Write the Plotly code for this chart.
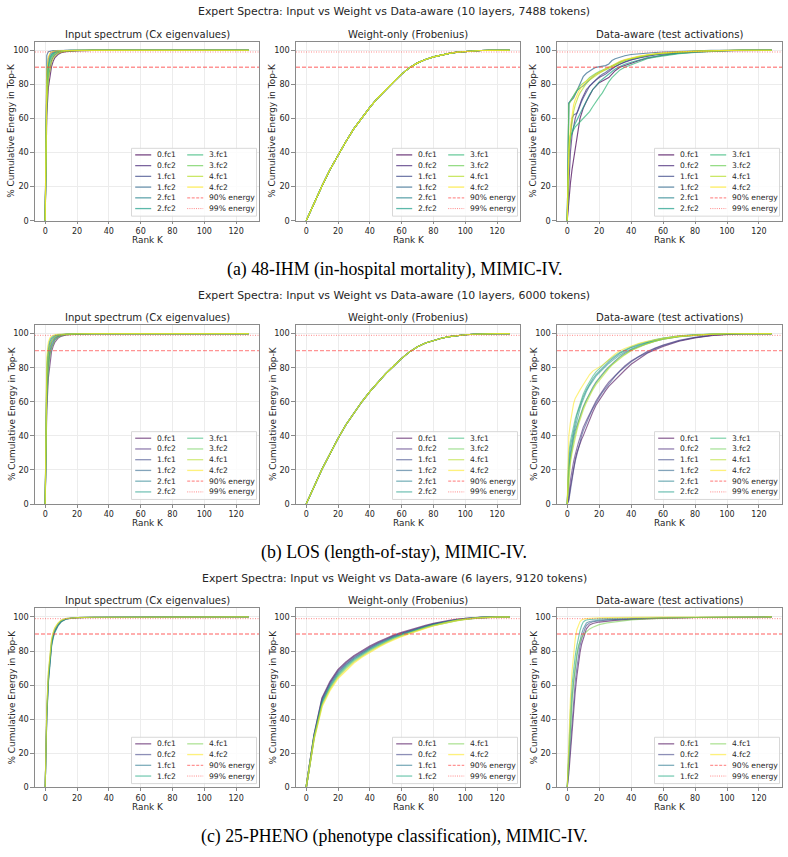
import math
import plotly.graph_objects as go

# ---------------- data ----------------
LAYERS10 = ["0.fc1", "0.fc2", "1.fc1", "1.fc2", "2.fc1", "2.fc2", "3.fc1", "3.fc2", "4.fc1", "4.fc2"]
LAYERS6 = ["0.fc1", "0.fc2", "1.fc1", "1.fc2", "4.fc1", "4.fc2"]
REF_LABELS = ["90% energy", "99% energy"]
REF_LEVELS = [90, 99]
K_MAX = 128

SUPTITLES = [
    "Expert Spectra: Input vs Weight vs Data-aware (10 layers, 7488 tokens)",
    "Expert Spectra: Input vs Weight vs Data-aware (10 layers, 6000 tokens)",
    "Expert Spectra: Input vs Weight vs Data-aware (6 layers, 9120 tokens)",
]
PANEL_TITLES = ["Input spectrum (Cx eigenvalues)", "Weight-only (Frobenius)", "Data-aware (test activations)"]
CAPTIONS = [
    "(a) 48-IHM (in-hospital mortality), MIMIC-IV.",
    "(b) LOS (length-of-stay), MIMIC-IV.",
    "(c) 25-PHENO (phenotype classification), MIMIC-IV.",
]
X_TICKS = [0, 20, 40, 60, 80, 100, 120]
Y_TICKS = [0, 20, 40, 60, 80, 100]

K_IN = [0, 1, 2, 3, 4, 5, 6, 8, 10, 13, 16, 20, 30, 50, 80, 128]
K_W = [0, 5, 10, 15, 20, 25, 30, 35, 40, 45, 50, 55, 60, 65, 70, 75, 80, 85, 90, 95, 100, 105, 110, 115, 120, 128]
K_DA = [0, 1, 2, 3, 4, 5, 6, 7, 8, 9, 10, 12, 14, 16, 18, 20, 22, 24, 26, 28, 30, 33, 36, 40, 45, 50, 55, 60, 70, 80, 90, 100, 110, 128]
K_DA3 = [0, 1, 2, 3, 4, 5, 6, 7, 8, 9, 10, 11, 12, 14, 16, 20, 25, 30, 40, 50, 60, 80, 100, 128]

# Row (a) 48-IHM
IHM_INPUT = [
    [0, 62, 78, 86, 90.5, 93.5, 95.5, 97.5, 98.6, 99.2, 99.5, 99.7, 99.9, 100, 100, 100],
    [0, 70, 84, 90.5, 94, 96, 97.3, 98.5, 99.1, 99.5, 99.7, 99.8, 99.9, 100, 100, 100],
    [0, 86, 95, 97.6, 98.6, 99.1, 99.4, 99.6, 99.8, 99.9, 99.9, 100, 100, 100, 100, 100],
    [0, 97, 99.2, 99.5, 99.7, 99.8, 99.85, 99.9, 99.95, 100, 100, 100, 100, 100, 100, 100],
    [0, 80, 92, 96, 97.7, 98.5, 99, 99.4, 99.6, 99.8, 99.9, 99.9, 100, 100, 100, 100],
    [0, 76, 89, 94, 96.3, 97.6, 98.4, 99.1, 99.4, 99.7, 99.8, 99.9, 100, 100, 100, 100],
    [0, 79, 91, 95.2, 97.1, 98.2, 98.8, 99.3, 99.6, 99.8, 99.9, 99.9, 100, 100, 100, 100],
    [0, 73, 87, 92.5, 95.4, 97, 98, 98.9, 99.3, 99.6, 99.8, 99.9, 100, 100, 100, 100],
    [0, 68, 83, 89.5, 93, 95.2, 96.6, 98.1, 98.9, 99.4, 99.6, 99.8, 99.9, 100, 100, 100],
    [0, 88, 96, 98.2, 99, 99.4, 99.6, 99.75, 99.85, 99.9, 99.95, 100, 100, 100, 100, 100],
]
IHM_WEIGHT = [0, 10.5, 20.5, 30, 38.5, 46.5, 54, 60.5, 66.5, 72, 77, 81.5, 86, 89.8, 92.6, 94.6,
              96.1, 97.3, 98.2, 98.9, 99.35, 99.65, 99.85, 99.95, 100, 100]
IHM_DATA = [
    [0, 12, 22, 30, 36, 42, 50, 56, 60, 63, 66, 70, 74, 77, 79, 81, 82, 83, 84, 86, 88, 90, 91, 92.5, 94, 95.3, 96.3, 97.1, 98.3, 99, 99.5, 99.8, 99.95, 100],
    [0, 25, 40, 50, 56, 60, 63, 66, 69, 71, 73, 77, 79, 81, 82.5, 84, 85, 86, 87.5, 89, 90.5, 92, 93, 94.3, 95.5, 96.5, 97.3, 97.9, 98.8, 99.3, 99.7, 99.9, 100, 100],
    [0, 35, 50, 60, 62, 62.5, 63, 65, 68, 70, 72, 76, 79, 81, 83, 84.5, 86, 87, 88.5, 89.5, 90.5, 92, 93.3, 94.5, 95.8, 96.8, 97.5, 98, 98.8, 99.4, 99.7, 99.9, 100, 100],
    [0, 69, 70, 71, 72, 74, 76, 78, 81, 83, 84.5, 86.5, 88, 89, 90, 90.2, 90.5, 91, 92, 94, 95, 96, 96.8, 97.5, 98, 98.4, 98.7, 99, 99.4, 99.7, 99.9, 100, 100, 100],
    [0, 69, 70.5, 72, 73.5, 75, 76, 77, 78, 78.5, 79, 81, 83, 84.5, 86, 87, 88, 89, 90, 91, 92, 93.2, 94.2, 95.3, 96.3, 97.1, 97.7, 98.2, 98.9, 99.4, 99.7, 99.9, 100, 100],
    [0, 40, 48, 52, 55, 57, 59, 61, 63, 65, 67, 71, 74, 77, 79.5, 81.5, 83, 84.5, 86, 87.5, 89, 90.5, 91.8, 93, 94.5, 95.6, 96.5, 97.2, 98.3, 99, 99.5, 99.8, 100, 100],
    [0, 45, 50, 52, 53.5, 55, 56, 57, 58, 59.5, 60.5, 62, 64, 67, 70, 72.5, 75, 78.5, 81.5, 84, 86, 88.5, 90, 91.5, 93.5, 95, 96, 96.8, 98, 98.8, 99.4, 99.8, 100, 100],
    [0, 68, 70, 72, 73.5, 75, 76.5, 78, 79, 80, 80.5, 82, 84, 85.5, 86.5, 87.5, 88.5, 89.2, 90, 90.8, 91.5, 92.8, 94, 95, 96.2, 97, 97.7, 98.2, 98.9, 99.4, 99.7, 99.9, 100, 100],
    [0, 38, 50, 58, 64, 68, 71, 73, 75, 76.5, 78, 80.5, 82.5, 84, 85.5, 86.5, 87.5, 88.5, 89.5, 90.5, 91.5, 92.8, 94, 95.2, 96.3, 97.2, 97.8, 98.3, 99, 99.5, 99.8, 99.9, 100, 100],
    [0, 42, 55, 63, 68, 71, 73.5, 75.5, 77, 78.5, 80, 82, 83.5, 85, 86, 87, 88, 89, 90, 91, 92, 93.5, 94.5, 95.6, 96.6, 97.4, 98, 98.5, 99.1, 99.5, 99.8, 99.9, 100, 100],
]

# Row (b) LOS
LOS_INPUT = [
    [0, 55, 74, 84, 89.5, 92.5, 94.8, 97.2, 98.4, 99.2, 99.5, 99.7, 99.9, 100, 100, 100],
    [0, 62, 80, 88, 92, 94.5, 96.2, 98, 98.9, 99.4, 99.6, 99.8, 99.9, 100, 100, 100],
    [0, 70, 86, 92, 94.8, 96.5, 97.6, 98.7, 99.2, 99.6, 99.7, 99.8, 99.9, 100, 100, 100],
    [0, 78, 91, 95.2, 97, 98, 98.6, 99.2, 99.5, 99.7, 99.8, 99.9, 99.9, 100, 100, 100],
    [0, 66, 83, 90, 93.5, 95.5, 97, 98.4, 99, 99.5, 99.7, 99.8, 99.9, 100, 100, 100],
    [0, 74, 88, 93.5, 96, 97.4, 98.2, 99, 99.4, 99.6, 99.8, 99.9, 99.9, 100, 100, 100],
    [0, 82, 93, 96.5, 97.9, 98.6, 99, 99.4, 99.6, 99.8, 99.9, 99.9, 100, 100, 100, 100],
    [0, 60, 78, 87, 91.5, 94.2, 96, 97.8, 98.8, 99.3, 99.6, 99.8, 99.9, 100, 100, 100],
    [0, 72, 87, 93, 95.6, 97, 98, 98.9, 99.3, 99.6, 99.8, 99.9, 99.9, 100, 100, 100],
    [0, 86, 95, 97.5, 98.5, 99, 99.3, 99.6, 99.7, 99.8, 99.9, 99.9, 100, 100, 100, 100],
]
LOS_WEIGHT = [0, 10.5, 20.5, 29.5, 38.5, 46.5, 53.5, 60, 66, 71.5, 76.5, 81, 85.5, 89.3, 92.3, 94.5,
              96.1, 97.3, 98.2, 98.9, 99.35, 99.65, 99.85, 99.95, 100, 100]
LOS_DATA = [
    [0, 3, 10, 16, 22, 26, 30, 33, 35, 38, 40, 45, 50, 54, 58, 61, 64, 66.5, 69, 71, 73, 76, 78.5, 82, 85.5, 88.5, 90.5, 92.5, 95.5, 97.5, 98.8, 99.6, 99.9, 100],
    [0, 5, 14, 20, 25, 29, 33, 36, 39, 42, 45, 49, 53, 57, 60.5, 63.5, 66.5, 69, 71.5, 73.5, 75.5, 78.5, 81, 84, 87, 89.5, 91.5, 93.3, 96, 97.8, 99, 99.7, 100, 100],
    [0, 2, 8, 15, 20, 25, 29, 33, 37, 40, 43, 48, 52, 56, 59.5, 62.5, 65.5, 68, 70.5, 73, 75, 78, 80.5, 83.5, 86.5, 89, 91.2, 93, 95.8, 97.7, 98.9, 99.6, 99.9, 100],
    [0, 20, 28, 34, 39, 43, 46, 49, 52, 55, 57, 61, 65, 68.5, 71.5, 74, 76.5, 78.5, 80.5, 82.5, 84, 86.5, 88.5, 90.5, 92.5, 94.2, 95.6, 96.7, 98.2, 99.1, 99.6, 99.9, 100, 100],
    [0, 26, 34, 39, 44, 48, 52, 55, 58, 61, 63, 67, 70.5, 73.5, 76, 78, 80, 82, 83.5, 85, 86.5, 88.5, 90, 91.8, 93.5, 95, 96.2, 97.2, 98.5, 99.3, 99.7, 99.9, 100, 100],
    [0, 22, 30, 36, 41, 45, 49, 53, 56, 59, 61.5, 66, 69.5, 72.5, 75, 77, 79, 81, 82.5, 84, 85.5, 87.5, 89.2, 91, 93, 94.6, 95.9, 97, 98.4, 99.2, 99.7, 99.9, 100, 100],
    [0, 30, 37, 42, 46, 50, 53, 56, 59, 62, 64.5, 68.5, 72, 75, 77.5, 79.5, 81.5, 83, 84.5, 86, 87.2, 89, 90.5, 92.2, 94, 95.4, 96.5, 97.4, 98.7, 99.4, 99.8, 99.95, 100, 100],
    [0, 18, 26, 32, 37, 41, 45, 48, 51, 54, 56.5, 61, 64.5, 68, 71, 73.5, 76, 78, 80, 82, 83.5, 86, 88, 90.2, 92.4, 94.2, 95.6, 96.8, 98.3, 99.1, 99.6, 99.9, 100, 100],
    [0, 15, 24, 30, 35, 39, 43, 46.5, 49.5, 52.5, 55, 59.5, 63.5, 67, 70, 72.5, 75, 77.5, 79.5, 81.5, 83, 85.5, 87.5, 90, 92.2, 94, 95.5, 96.7, 98.2, 99.1, 99.6, 99.9, 100, 100],
    [0, 40, 48, 55, 59, 62, 64, 65.5, 67, 68.5, 70, 73, 76, 78, 79, 80, 81.5, 83, 85, 86.5, 88, 90, 91.3, 92.8, 94.3, 95.5, 96.5, 97.3, 98.5, 99.2, 99.7, 99.9, 100, 100],
]

# Row (c) 25-PHENO
PHENO_INPUT = [
    [0, 42, 63, 76, 84, 88.5, 91.5, 95, 97.3, 98.8, 99.3, 99.6, 99.8, 99.9, 100, 100],
    [0, 44, 65, 78, 85.5, 89.7, 92.5, 95.7, 97.7, 99, 99.4, 99.6, 99.8, 99.9, 100, 100],
    [0, 40, 61, 74, 82.5, 87.5, 90.8, 94.6, 97, 98.7, 99.3, 99.6, 99.8, 99.9, 100, 100],
    [0, 41, 62, 75, 83.5, 88.2, 91.3, 95, 97.3, 98.8, 99.3, 99.6, 99.8, 99.9, 100, 100],
    [0, 46, 67, 79.5, 86.5, 90.5, 93.2, 96.2, 98, 99.1, 99.4, 99.6, 99.8, 99.9, 100, 100],
    [0, 47, 68, 80, 87, 91, 93.6, 96.4, 98.1, 99.1, 99.4, 99.6, 99.8, 99.9, 100, 100],
]
PHENO_WEIGHT = [
    [0, 31, 52.5, 62, 69, 73.5, 77.2, 80.2, 82.8, 85.2, 87.4, 89.2, 90.8, 92.3, 93.7, 95, 96.1, 97.1, 97.9, 98.6, 99.1, 99.5, 99.75, 99.9, 100, 100],
    [0, 30.5, 51.5, 61, 68, 72.5, 76.3, 79.4, 82, 84.5, 86.8, 88.7, 90.3, 91.8, 93.3, 94.6, 95.8, 96.8, 97.7, 98.4, 99, 99.4, 99.7, 99.9, 100, 100],
    [0, 30, 50.5, 60, 67, 71.7, 75.6, 78.8, 81.5, 84, 86.3, 88.3, 89.9, 91.5, 93, 94.3, 95.5, 96.6, 97.5, 98.2, 98.9, 99.35, 99.65, 99.85, 100, 100],
    [0, 29.5, 49.5, 59, 66, 70.8, 74.8, 78, 80.8, 83.3, 85.7, 87.8, 89.5, 91.1, 92.6, 94, 95.2, 96.3, 97.3, 98.1, 98.8, 99.3, 99.6, 99.85, 100, 100],
    [0, 29, 48.5, 58, 65, 69.8, 73.9, 77.2, 80.1, 82.7, 85.1, 87.2, 89, 90.7, 92.3, 93.7, 95, 96.1, 97.1, 98, 98.7, 99.25, 99.6, 99.85, 100, 100],
    [0, 28.5, 47.5, 57, 64, 68.8, 73, 76.4, 79.4, 82.1, 84.6, 86.7, 88.6, 90.3, 92, 93.4, 94.8, 96, 97, 97.9, 98.6, 99.2, 99.55, 99.8, 100, 100],
]
PHENO_DATA = [
    [0, 8, 20, 33, 45, 56, 65, 73, 79, 84, 87, 90, 93, 95.3, 96.2, 97, 97.6, 98, 98.6, 99, 99.3, 99.7, 99.9, 100],
    [0, 12, 26, 40, 52, 62, 70, 77, 83, 87, 90.5, 93, 95, 96.5, 97.2, 97.8, 98.2, 98.5, 98.9, 99.2, 99.4, 99.7, 99.9, 100],
    [0, 20, 38, 52, 62, 70, 77, 82, 86.5, 90, 93, 95, 96.5, 97.3, 97.7, 98.1, 98.4, 98.6, 99, 99.2, 99.4, 99.7, 99.9, 100],
    [0, 25, 45, 60, 70, 77, 83, 88, 92, 95, 97, 97.8, 98.2, 98.5, 98.7, 98.9, 99.1, 99.2, 99.4, 99.5, 99.6, 99.8, 99.9, 100],
    [0, 18, 36, 50, 62, 71, 78, 83, 86, 88, 89.5, 90.5, 91.5, 93, 94, 95.5, 96.5, 97.2, 98.3, 98.9, 99.3, 99.7, 99.9, 100],
    [0, 30, 52, 68, 79, 87, 92.5, 95.5, 97.3, 98.2, 98.7, 98.9, 99.1, 99.3, 99.4, 99.5, 99.6, 99.7, 99.8, 99.85, 99.9, 99.95, 100, 100],
]

VIRIDIS10 = ["#440154", "#482878", "#3e4989", "#31688e", "#26828e", "#1f9e89", "#35b779", "#6ece58", "#b5de2b", "#fde725"]
VIRIDIS6 = ["#440154", "#414487", "#2a788e", "#22a884", "#7ad151", "#fde725"]

# panels: for each row -> (layers, colors, alpha, [(K, series-list) x3])
ROWS_DATA = [
    (LAYERS10, VIRIDIS10, 0.72, [(K_IN, IHM_INPUT), (K_W, [IHM_WEIGHT] * 10), (K_DA, IHM_DATA)]),
    (LAYERS10, VIRIDIS10, 0.6, [(K_IN, LOS_INPUT), (K_W, [LOS_WEIGHT] * 10), (K_DA, LOS_DATA)]),
    (LAYERS6, VIRIDIS6, 0.6, [(K_IN, PHENO_INPUT), (K_W, PHENO_WEIGHT), (K_DA3, PHENO_DATA)]),
]

# ---------------- layout geometry (pixels) ----------------
W, H = 788, 857
COL_PX = [(35, 259), (296, 520), (557, 782)]
ROW_PX = [(42, 222), (327, 507), (612, 792)]
FONT = "DejaVu Sans"
TXT = "#262626"
REF_COLOR_DASH = "rgba(255,60,60,0.55)"
REF_COLOR_DOT = "rgba(255,60,60,0.6)"


def px(x):
    return x / W


def py(y):
    return 1 - y / H


def rgba(hexc, a):
    h = hexc.lstrip("#")
    r, g, b = int(h[0:2], 16), int(h[2:4], 16), int(h[4:6], 16)
    return f"rgba({r},{g},{b},{a})"


pad = 0.05 * K_MAX
X_RANGE = [-pad, K_MAX + pad]
Y_RANGE = [0, 105]

fig = go.Figure()
shapes = []
annotations = []
layout_axes = {}

for r, (layers, colors, alpha, panels) in enumerate(ROWS_DATA):
    y0p, y1p = ROW_PX[r]
    # suptitle
    annotations.append(dict(text=SUPTITLES[r], x=0.5, y=py(y0p - 30), xref="paper", yref="paper",
                            showarrow=False, xanchor="center", yanchor="middle",
                            font=dict(family=FONT, size=10.9, color=TXT)))
    # caption
    annotations.append(dict(text=CAPTIONS[r], x=0.5, y=py(y1p + 49), xref="paper", yref="paper",
                            showarrow=False, xanchor="center", yanchor="middle",
                            font=dict(family="Liberation Serif", size=17.8, color="#000000")))
    for c, (K, series) in enumerate(panels):
        n = r * 3 + c + 1
        x0p, x1p = COL_PX[c]
        xa = "x" if n == 1 else f"x{n}"
        ya = "y" if n == 1 else f"y{n}"
        xkey = "xaxis" if n == 1 else f"xaxis{n}"
        ykey = "yaxis" if n == 1 else f"yaxis{n}"
        common = dict(showline=True, mirror=True, linecolor="#8a8a8a", linewidth=1.1,
                      ticks="outside", tickwidth=0.9, tickcolor="#8a8a8a",
                      showgrid=True, gridcolor="#ececec", gridwidth=0.8, zeroline=False,
                      fixedrange=True)
        layout_axes[xkey] = dict(domain=[px(x0p), px(x1p)], anchor=ya, range=X_RANGE,
                                 tickvals=X_TICKS, ticklen=2.5,
                                 tickfont=dict(family=FONT, size=8.0, color=TXT), **common)
        layout_axes[ykey] = dict(domain=[py(y1p), py(y0p)], anchor=xa, range=Y_RANGE,
                                 tickvals=Y_TICKS, ticklen=3.5,
                                 tickfont=dict(family=FONT, size=8.2, color=TXT), **common)
        lw = 1.6 if (r == 2 and c == 1) else 1.15
        for i, name in enumerate(layers):
            fig.add_trace(go.Scatter(x=K, y=series[i], mode="lines", name=name,
                                     line=dict(color=rgba(colors[i], alpha), width=lw),
                                     xaxis=xa, yaxis=ya, showlegend=False, hoverinfo="skip"))
        # reference lines spanning the axis
        fig.add_trace(go.Scatter(x=X_RANGE, y=[REF_LEVELS[0]] * 2, mode="lines", name=REF_LABELS[0],
                                 line=dict(color=REF_COLOR_DASH, width=1.4, dash="4px,2px"),
                                 xaxis=xa, yaxis=ya, showlegend=False, hoverinfo="skip"))
        fig.add_trace(go.Scatter(x=X_RANGE, y=[REF_LEVELS[1]] * 2, mode="lines", name=REF_LABELS[1],
                                 line=dict(color=REF_COLOR_DOT, width=1.0, dash="1px,1.5px"),
                                 xaxis=xa, yaxis=ya, showlegend=False, hoverinfo="skip"))
        # titles and axis labels
        annotations.append(dict(text=PANEL_TITLES[c], x=px((x0p + x1p) / 2), y=py(y0p - 7.5),
                                xref="paper", yref="paper", showarrow=False,
                                xanchor="center", yanchor="middle",
                                font=dict(family=FONT, size=10.1, color=TXT)))
        annotations.append(dict(text="Rank K", x=px((x0p + x1p) / 2), y=py(y1p + 19.5),
                                xref="paper", yref="paper", showarrow=False,
                                xanchor="center", yanchor="middle",
                                font=dict(family=FONT, size=8.9, color=TXT)))
        annotations.append(dict(text="% Cumulative Energy in Top-K", x=px(x0p - 23.5), y=py((y0p + y1p) / 2),
                                xref="paper", yref="paper", showarrow=False, textangle=-90,
                                xanchor="center", yanchor="middle",
                                font=dict(family=FONT, size=8.9, color=TXT)))
        # legend box (two columns, column-major order)
        entries = [(nm, rgba(colors[i], alpha), "solid", 1.3) for i, nm in enumerate(layers)]
        entries += [(REF_LABELS[0], REF_COLOR_DASH, "3px,1.5px", 1.2),
                    (REF_LABELS[1], REF_COLOR_DOT, "1px,1.2px", 1.0)]
        nrows = math.ceil(len(entries) / 2)
        row_h = 10.8
        bw = 125
        bh = nrows * row_h + 3.4
        bright = x1p - 2.5
        bleft = bright - bw
        bbot = y1p - (4.6 if nrows > 4 else 3.8)
        btop = bbot - bh
        shapes.append(dict(type="rect", xref="paper", yref="paper",
                           x0=px(bleft), x1=px(bright), y0=py(bbot), y1=py(btop),
                           fillcolor="rgba(255,255,255,0.82)", line=dict(color="#d4d4d4", width=0.9),
                           layer="above"))
        for i, (nm, col, dash, w) in enumerate(entries):
            cc = i // nrows
            rr = i % nrows
            yc = btop + 6.6 + rr * row_h
            xs = bleft + 3.7 + cc * 52
            shapes.append(dict(type="line", xref="paper", yref="paper",
                               x0=px(xs), x1=px(xs + 16), y0=py(yc), y1=py(yc),
                               line=dict(color=col, width=w, dash=dash), layer="above"))
            annotations.append(dict(text=nm, x=px(xs + 19.8), y=py(yc), xref="paper", yref="paper",
                                    showarrow=False, xanchor="left", yanchor="middle",
                                    font=dict(family=FONT, size=7.6, color=TXT)))

fig.update_layout(
    width=W, height=H,
    margin=dict(l=0, r=0, t=0, b=0),
    paper_bgcolor="white", plot_bgcolor="white",
    showlegend=False,
    shapes=shapes,
    annotations=annotations,
    **layout_axes,
)

fig.write_html("out.html")
